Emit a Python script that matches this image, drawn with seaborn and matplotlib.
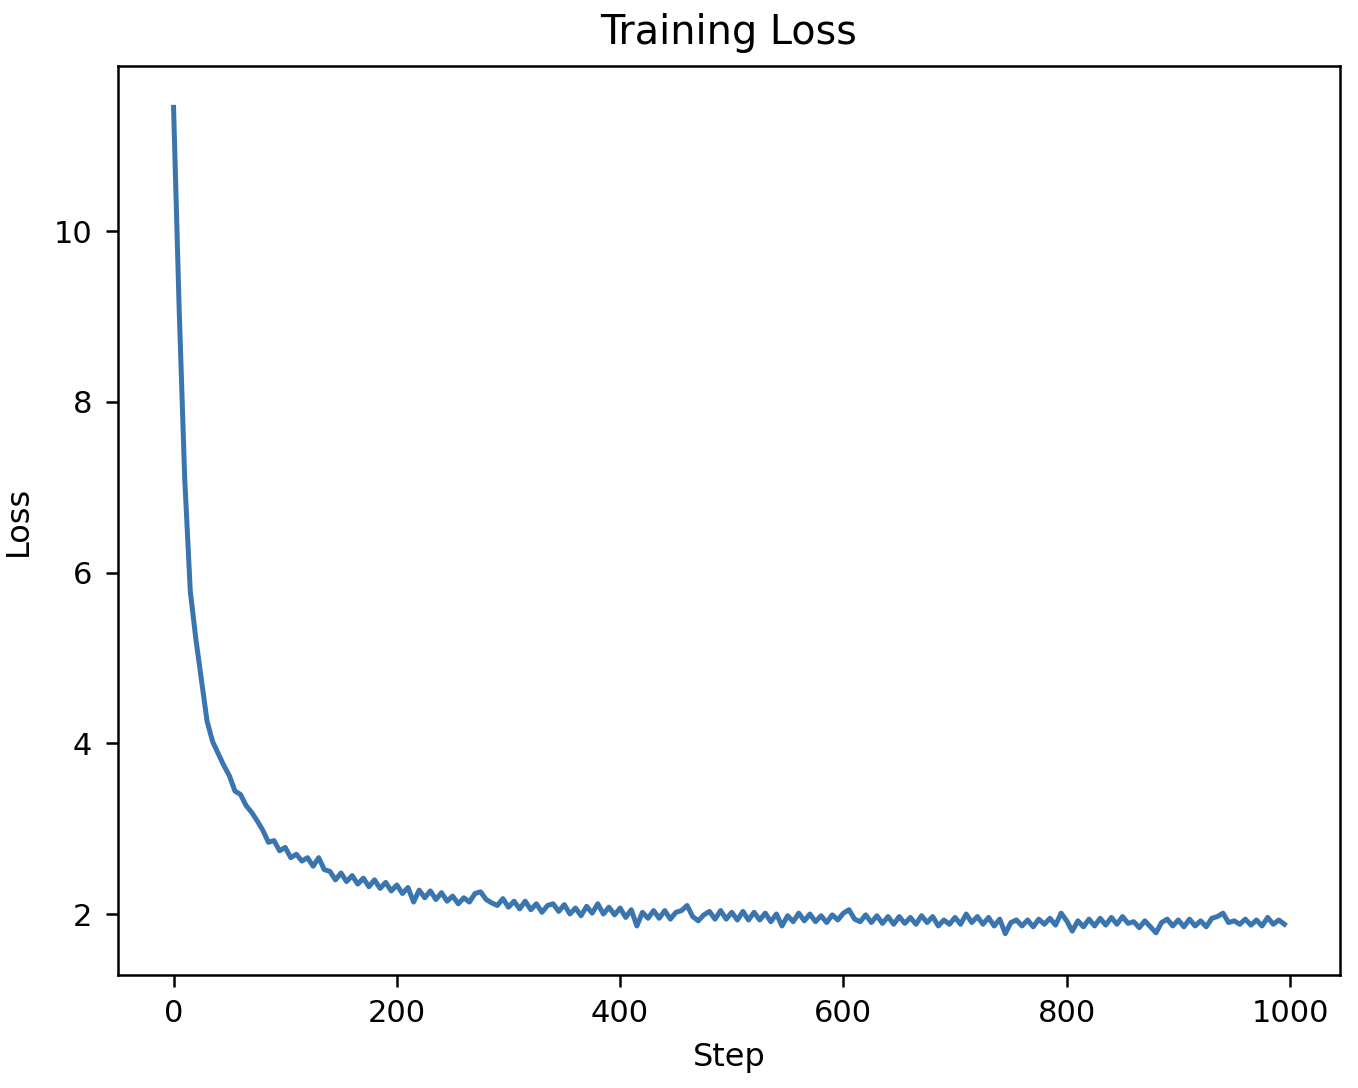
import pandas as pd
import matplotlib
matplotlib.use("Agg")
import matplotlib.pyplot as plt
import seaborn as sns

steps = list(range(0, 1000, 5))

loss = [
    11.45, 9.10, 7.10, 5.78, 5.22, 4.74, 4.26, 4.02, 3.88, 3.74,
    3.62, 3.44, 3.40, 3.27, 3.19, 3.09, 2.98, 2.84, 2.86, 2.74,
    2.78, 2.66, 2.70, 2.62, 2.66, 2.56, 2.66, 2.52, 2.50, 2.40,
    2.48, 2.38, 2.45, 2.35, 2.42, 2.32, 2.40, 2.30, 2.37, 2.27,
    2.34, 2.24, 2.31, 2.14, 2.28, 2.19, 2.27, 2.17, 2.25, 2.15,
    2.21, 2.12, 2.19, 2.14, 2.24, 2.26, 2.17, 2.13, 2.10, 2.18,
    2.08, 2.15, 2.06, 2.15, 2.05, 2.12, 2.02, 2.10, 2.12, 2.03,
    2.11, 2.00, 2.07, 1.98, 2.09, 2.01, 2.12, 2.00, 2.08, 1.99,
    2.07, 1.96, 2.05, 1.86, 2.02, 1.95, 2.04, 1.95, 2.04, 1.94,
    2.02, 2.04, 2.10, 1.97, 1.92, 1.99, 2.03, 1.94, 2.04, 1.94,
    2.02, 1.93, 2.03, 1.93, 2.02, 1.93, 2.01, 1.91, 2.00, 1.86,
    1.98, 1.91, 2.01, 1.92, 2.00, 1.91, 1.98, 1.90, 1.99, 1.93,
    2.01, 2.05, 1.94, 1.91, 1.99, 1.90, 1.98, 1.89, 1.97, 1.88,
    1.97, 1.89, 1.96, 1.88, 1.98, 1.90, 1.97, 1.86, 1.93, 1.88,
    1.96, 1.88, 2.00, 1.90, 1.97, 1.88, 1.96, 1.86, 1.94, 1.77,
    1.90, 1.93, 1.86, 1.93, 1.85, 1.94, 1.88, 1.95, 1.87, 2.01,
    1.92, 1.80, 1.92, 1.85, 1.94, 1.86, 1.95, 1.87, 1.96, 1.88,
    1.97, 1.89, 1.91, 1.84, 1.92, 1.85, 1.78, 1.90, 1.94, 1.86,
    1.93, 1.85, 1.94, 1.86, 1.92, 1.85, 1.95, 1.97, 2.01, 1.90,
    1.92, 1.88, 1.94, 1.87, 1.93, 1.86, 1.96, 1.88, 1.93, 1.88,
]

df = pd.DataFrame({"Step": steps, "Loss": loss})

plt.rcParams["font.family"] = ["DejaVu Sans"]
plt.rcParams["axes.linewidth"] = 0.9
plt.rcParams["xtick.major.size"] = 4.3
plt.rcParams["ytick.major.size"] = 4.3
plt.rcParams["xtick.major.width"] = 0.9
plt.rcParams["ytick.major.width"] = 0.9
plt.rcParams["xtick.major.pad"] = 4.3
plt.rcParams["ytick.major.pad"] = 5.0

fig = plt.figure(figsize=(6.79, 5.44), dpi=200)
ax = fig.add_axes([0.0869, 0.1039, 0.8998, 0.8354])

sns.lineplot(data=df, x="Step", y="Loss", color="#3a75af", linewidth=1.8, ax=ax)

ax.set_title("Training Loss", fontsize=14.3, pad=8)
ax.set_xlabel("Step", fontsize=11.5, labelpad=5)
ax.set_ylabel("Loss", fontsize=11.5, labelpad=7)
ax.set_xticks([0, 200, 400, 600, 800, 1000])
ax.set_yticks([2, 4, 6, 8, 10])
ax.tick_params(labelsize=11)

fig.savefig("out.png", dpi=200)
